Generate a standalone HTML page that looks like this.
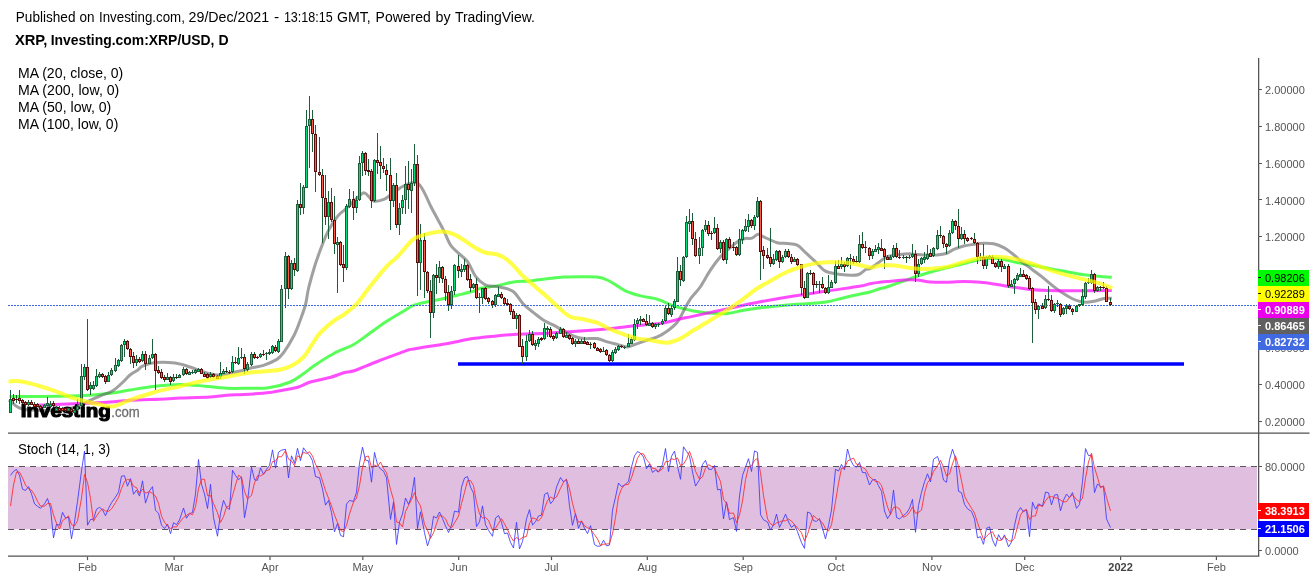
<!DOCTYPE html><html><head><meta charset="utf-8"><title>XRP/USD chart</title><style>html,body{margin:0;padding:0;background:#fff}
body{width:1316px;height:580px;overflow:hidden}
text{font-family:"Liberation Sans",Arial,sans-serif;fill:#000}
.t14{font-size:14px}.t14b{font-size:14px;font-weight:bold}
.ax{font-size:11px;fill:#555}.axb{font-size:11px;font-weight:bold;fill:#444}
.axl{font-size:11px;font-weight:bold}
.logo{font-size:18.6px;font-weight:bold;fill:#000;stroke:#000;stroke-width:1.2px;stroke-linejoin:round}
.logo2{font-size:15px;fill:#6e6e6e;stroke:#6e6e6e;stroke-width:0.3px}
</style></head><body><svg width="1316" height="580" viewBox="0 0 1316 580" style="display:block">
<rect width="100%" height="100%" fill="#fff"/>
<path d="M458 364H1184" stroke="#0000ff" stroke-width="3.4" fill="none"/>
<path d="M9.5 396.6C21.2 396.5 63.2 396.3 80.0 395.7C96.8 395.1 102.0 394.1 110.3 393.2C118.6 392.2 122.5 391.2 130.0 390.0C137.4 388.8 146.7 387.2 155.0 386.2C163.3 385.3 171.7 384.5 180.0 384.5C188.3 384.5 197.2 385.6 205.0 386.2C212.8 386.9 219.2 388.0 226.7 388.3C234.2 388.6 243.0 388.3 250.0 388.2C257.0 388.2 261.9 388.8 268.6 387.8C275.3 386.8 284.5 384.4 290.3 382.0C296.1 379.6 299.8 376.3 303.7 373.6C307.6 370.9 308.7 369.4 313.7 366.0C318.7 362.6 327.1 357.1 333.8 353.5C340.5 349.9 347.6 347.9 353.7 344.5C359.8 341.1 364.8 336.7 370.4 332.8C376.0 328.9 381.5 324.7 387.1 321.1C392.7 317.5 399.3 313.6 403.8 311.0C408.3 308.4 409.7 306.8 413.9 305.2C418.1 303.6 424.5 302.5 429.0 301.5C433.5 300.5 436.0 300.4 440.7 299.3C445.4 298.2 451.8 296.6 457.4 295.2C463.0 293.8 470.3 292.1 474.1 291.0C477.9 289.9 476.2 289.2 480.0 288.4C483.8 287.5 491.1 287.0 496.7 285.9C502.3 284.8 507.9 282.8 513.5 282.0C519.1 281.2 524.6 281.4 530.2 280.9C535.8 280.3 541.3 279.3 546.9 278.7C552.5 278.1 558.1 277.3 563.7 277.0C569.3 276.7 574.8 276.7 580.4 276.7C586.0 276.7 592.6 276.4 597.1 277.0C601.6 277.6 603.9 278.5 607.2 280.0C610.6 281.5 613.9 283.9 617.2 285.9C620.5 287.8 623.3 290.0 627.2 291.7C631.1 293.4 636.1 294.8 640.6 295.9C645.1 297.0 650.8 297.7 654.0 298.4C657.2 299.1 656.2 298.8 660.0 300.2C663.8 301.6 671.1 305.1 676.7 306.9C682.3 308.7 687.9 309.9 693.5 311.0C699.1 312.1 704.6 312.8 710.2 313.2C715.8 313.6 721.3 314.1 726.9 313.6C732.5 313.1 738.1 311.2 743.7 310.2C749.3 309.2 754.8 308.4 760.4 307.7C766.0 307.0 771.5 306.6 777.1 306.0C782.7 305.4 788.2 304.8 793.8 304.4C799.4 304.0 805.0 303.9 810.6 303.5C816.2 303.1 821.7 302.8 827.3 301.8C832.9 300.8 838.4 299.0 844.0 297.7C849.6 296.4 856.5 294.9 860.8 294.0C865.1 293.1 867.0 292.8 870.0 292.0C873.0 291.2 876.2 289.8 879.0 289.0C881.8 288.2 882.6 288.3 886.7 287.0C890.8 285.7 897.9 283.1 903.5 281.1C909.1 279.2 914.6 277.1 920.2 275.3C925.8 273.5 931.3 271.8 936.9 270.3C942.5 268.8 948.1 267.5 953.7 266.1C959.3 264.7 966.0 263.0 970.4 261.9C974.8 260.8 976.5 260.0 980.4 259.4C984.3 258.8 989.9 258.2 993.8 258.2C997.7 258.2 1000.0 258.7 1003.8 259.4C1007.6 260.1 1011.8 261.5 1016.7 262.5C1021.7 263.5 1027.9 264.4 1033.5 265.4C1039.1 266.4 1044.6 267.6 1050.2 268.7C1055.8 269.8 1061.3 270.7 1066.9 271.7C1072.5 272.7 1078.1 273.9 1083.7 274.7C1089.3 275.5 1095.7 276.0 1100.4 276.4C1105.1 276.8 1109.9 277.1 1111.8 277.3" stroke="#00ff00" stroke-opacity="0.65" stroke-width="3" fill="none" stroke-linejoin="round" stroke-linecap="butt"/>
<path d="M9.0 400.0C10.6 401.3 15.3 405.9 18.8 407.6C22.3 409.3 23.1 409.6 30.0 410.0C36.9 410.4 52.5 410.5 60.0 410.0C67.5 409.5 70.4 408.4 75.0 407.0C79.6 405.6 83.6 403.1 87.8 401.3C92.0 399.5 95.8 397.8 100.0 396.0C104.2 394.2 109.1 392.9 112.8 390.7C116.5 388.5 119.1 385.6 122.0 383.0C124.9 380.4 127.3 377.2 130.0 375.0C132.7 372.8 135.8 371.5 137.9 370.0C140.0 368.5 139.7 367.5 142.5 366.2C145.3 365.0 149.6 363.0 155.0 362.5C160.4 362.0 169.2 362.2 175.0 363.0C180.8 363.8 185.0 365.4 190.0 367.0C195.0 368.6 200.4 371.2 205.0 372.5C209.6 373.8 213.1 374.9 217.5 375.0C221.9 375.1 227.5 373.6 231.7 372.8C235.9 372.1 239.2 371.3 242.5 370.5C245.8 369.7 248.3 368.7 251.8 367.8C255.3 366.9 259.3 366.7 263.5 365.3C267.7 363.9 273.5 361.5 276.9 359.4C280.2 357.3 280.8 356.6 283.6 352.7C286.4 348.8 290.9 341.4 293.7 336.0C296.5 330.6 298.4 325.2 300.3 320.0C302.2 314.8 304.0 310.2 305.4 305.0C306.8 299.8 307.0 294.8 308.5 288.5C310.0 282.2 312.4 273.9 314.3 267.5C316.2 261.1 318.1 256.0 320.2 250.3C322.3 244.7 324.7 238.3 326.9 233.6C329.1 228.9 331.5 225.1 333.6 221.9C335.7 218.7 337.4 216.4 339.4 214.3C341.3 212.2 341.8 212.5 345.3 209.3C348.8 206.1 357.0 197.8 360.3 195.1C363.6 192.4 363.2 192.4 365.4 193.4C367.6 194.4 370.6 200.0 373.7 201.0C376.8 202.0 381.0 200.3 383.8 199.3C386.6 198.3 387.4 197.2 390.5 195.1C393.6 193.0 398.3 188.8 402.2 186.7C406.1 184.6 411.0 182.8 413.9 182.5C416.8 182.2 417.8 183.0 419.7 185.1C421.6 187.2 423.8 191.6 425.6 195.1C427.4 198.6 428.7 202.1 430.6 206.0C432.6 209.9 435.1 214.3 437.3 218.5C439.5 222.7 441.8 226.6 444.0 231.1C446.2 235.6 448.2 241.5 450.7 245.3C453.2 249.1 456.2 251.0 459.0 253.7C461.8 256.4 464.6 257.7 467.4 261.5C470.2 265.3 473.0 272.9 475.8 276.7C478.6 280.5 481.8 282.8 484.2 284.3C486.6 285.8 487.1 285.4 490.0 285.9C492.9 286.4 497.8 286.5 501.7 287.5C505.6 288.5 509.9 288.9 513.5 291.7C517.1 294.5 520.2 300.8 523.5 304.3C526.8 307.8 530.1 310.0 533.5 312.6C536.9 315.2 540.2 318.1 543.6 320.2C547.0 322.3 550.2 323.4 553.6 325.2C557.0 327.0 560.4 329.2 563.7 331.0C567.1 332.8 570.4 334.8 573.7 336.1C577.0 337.4 579.8 338.2 583.7 338.6C587.6 339.0 593.2 338.1 597.1 338.6C601.0 339.2 603.9 340.9 607.2 341.9C610.6 342.9 613.9 343.6 617.2 344.4C620.5 345.2 623.9 347.0 627.2 346.9C630.6 346.8 633.9 344.7 637.3 343.6C640.6 342.5 644.0 341.3 647.3 340.2C650.6 339.1 653.9 338.4 657.3 336.9C660.6 335.4 664.0 333.5 667.4 331.0C670.8 328.5 674.6 325.5 677.4 322.0C680.2 318.5 681.9 313.9 684.1 310.0C686.3 306.1 688.1 302.2 690.8 298.4C693.5 294.6 697.0 291.7 700.2 287.0C703.4 282.3 706.9 275.3 710.2 270.3C713.5 265.3 716.9 260.7 720.2 256.9C723.6 253.1 727.2 250.3 730.3 247.7C733.4 245.0 736.1 242.5 738.6 241.0C741.1 239.5 743.1 239.0 745.3 238.5C747.5 238.0 749.9 238.9 752.0 238.2C754.1 237.5 755.9 234.5 757.9 234.3C759.9 234.1 760.5 235.4 763.7 236.8C766.9 238.2 773.2 241.6 777.1 242.7C781.0 243.8 783.9 243.1 787.2 243.5C790.6 243.9 794.1 243.7 797.2 245.2C800.3 246.7 802.5 249.9 805.6 252.7C808.7 255.5 812.5 259.0 815.6 261.9C818.7 264.8 821.5 268.5 824.0 270.3C826.5 272.1 827.9 272.1 830.7 272.8C833.5 273.5 837.4 274.1 840.7 274.5C844.0 274.9 847.7 275.3 850.7 275.3C853.7 275.3 856.2 275.5 858.7 274.5C861.2 273.5 863.9 270.5 865.8 269.5C867.7 268.5 867.9 269.7 870.0 268.6C872.1 267.5 875.6 264.6 878.4 262.7C881.2 260.8 883.1 258.3 886.7 256.9C890.3 255.5 895.9 254.9 900.1 254.4C904.3 253.9 907.9 253.8 911.8 253.9C915.7 254.0 919.3 254.7 923.5 254.9C927.7 255.1 933.0 255.2 936.9 254.9C940.8 254.6 944.2 254.1 947.0 253.2C949.8 252.3 950.9 250.6 953.7 249.4C956.5 248.2 960.4 246.8 963.7 246.0C967.0 245.2 970.4 244.8 973.7 244.3C977.1 243.8 980.4 243.3 983.8 243.2C987.1 243.1 990.5 243.1 993.8 243.8C997.1 244.6 1000.7 246.1 1003.8 247.7C1006.9 249.3 1009.2 251.2 1012.2 253.5C1015.2 255.8 1018.4 259.1 1021.7 261.7C1025.0 264.3 1028.5 266.7 1031.8 269.2C1035.1 271.7 1038.4 274.0 1041.8 276.7C1045.2 279.4 1048.6 282.5 1051.9 285.1C1055.2 287.8 1058.6 290.4 1061.9 292.6C1065.2 294.8 1068.8 297.0 1071.9 298.5C1075.0 300.0 1077.8 300.9 1080.3 301.5C1082.8 302.1 1084.5 302.3 1087.0 302.2C1089.5 302.1 1092.6 301.6 1095.4 301.0C1098.2 300.4 1101.0 299.0 1103.7 298.5C1106.4 298.0 1110.5 298.2 1111.8 298.2" stroke="#606060" stroke-opacity="0.6" stroke-width="3" fill="none" stroke-linejoin="round" stroke-linecap="butt"/>
<path d="M37.6 405.2C44.7 404.9 67.9 404.1 80.0 403.6C92.1 403.1 101.7 402.6 110.0 402.0C118.3 401.4 120.8 400.8 130.0 400.3C139.2 399.8 156.7 399.4 165.0 399.0C173.3 398.6 172.5 398.3 180.0 398.0C187.5 397.7 201.7 397.5 210.0 397.0C218.3 396.5 224.4 395.4 230.0 395.0C235.6 394.6 236.8 394.9 243.5 394.5C250.2 394.1 264.4 393.1 270.0 392.5C275.6 391.9 272.4 392.0 276.9 391.2C281.4 390.4 291.4 389.0 297.0 387.5C302.6 386.0 304.9 383.7 310.4 382.0C315.9 380.3 324.4 379.0 330.0 377.5C335.6 376.0 339.6 374.0 343.8 372.8C348.0 371.6 349.4 372.4 355.0 370.5C360.6 368.6 369.0 364.7 377.3 361.5C385.6 358.3 399.4 353.3 405.0 351.2C410.6 349.2 406.6 350.2 410.8 349.4C415.0 348.6 425.6 346.9 430.0 346.2C434.4 345.6 432.5 346.1 437.3 345.3C442.1 344.5 453.4 342.4 459.0 341.2C464.6 340.1 467.3 339.3 470.8 338.7C474.3 338.1 472.9 338.4 480.0 337.7C487.1 337.0 502.4 335.1 513.5 334.4C524.6 333.6 535.8 333.8 546.9 333.2C558.0 332.6 569.2 331.8 580.4 331.0C591.5 330.2 602.6 329.3 613.8 328.2C624.9 327.1 639.6 325.2 647.3 324.4C655.0 323.6 654.4 324.5 660.0 323.6C665.6 322.7 675.2 320.1 680.8 318.8C686.4 317.6 685.8 317.8 693.5 316.1C701.2 314.5 715.8 311.3 726.9 308.9C738.0 306.5 749.2 303.9 760.4 301.8C771.5 299.7 782.6 297.8 793.8 296.0C804.9 294.2 816.1 292.7 827.3 291.0C838.5 289.3 853.7 287.2 860.8 286.0C867.9 284.8 865.7 284.4 870.0 283.7C874.3 283.0 881.1 282.2 886.7 281.6C892.3 281.0 898.5 280.3 903.5 280.0C908.5 279.7 912.3 279.7 916.8 280.0C921.2 280.3 925.5 281.6 930.2 282.0C935.0 282.4 939.7 282.4 945.3 282.3C950.9 282.2 957.9 281.6 963.7 281.6C969.6 281.6 974.8 281.8 980.4 282.3C986.0 282.8 991.5 283.7 997.1 284.5C1002.7 285.3 1008.3 286.5 1013.9 287.3C1019.5 288.1 1025.0 289.0 1030.6 289.5C1036.2 290.0 1040.6 290.3 1047.3 290.5C1054.0 290.7 1060.0 290.8 1070.8 290.8C1081.5 290.8 1105.0 290.6 1111.8 290.5" stroke="#ff00ff" stroke-opacity="0.7" stroke-width="3" fill="none" stroke-linejoin="round" stroke-linecap="butt"/>
<g style="filter:blur(0.6px)"><text x="20.8" y="416.8" class="logo" textLength="90" lengthAdjust="spacingAndGlyphs">Investing</text><text x="111.3" y="416.8" class="logo2" textLength="28.5" lengthAdjust="spacingAndGlyphs">.com</text></g>
<path d="M8 305.5H1257" stroke="#4169e1" stroke-width="1" stroke-dasharray="2 1" fill="none" shape-rendering="crispEdges"/>
<g shape-rendering="crispEdges">
<path d="M10 390h1v23h-1zM13 394h1v10h-1zM16 395h1v8h-1zM19 390h1v14h-1zM22 399h1v5h-1zM25 401h1v5h-1zM28 400h1v6h-1zM31 400h1v5h-1zM34 402h1v5h-1zM37 403h1v4h-1zM40 405h1v4h-1zM44 404h1v4h-1zM47 397h1v9h-1zM50 401h1v6h-1zM53 401h1v6h-1zM56 406h1v5h-1zM59 406h1v5h-1zM62 407h1v4h-1zM65 408h1v4h-1zM68 408h1v3h-1zM71 408h1v4h-1zM74 409h1v4h-1zM77 399h1v12h-1zM81 364h1v43h-1zM84 364h1v16h-1zM87 319h1v72h-1zM90 382h1v13h-1zM93 381h1v9h-1zM96 369h1v18h-1zM99 372h1v6h-1zM102 373h1v5h-1zM105 375h1v9h-1zM108 372h1v10h-1zM111 368h1v8h-1zM115 358h1v14h-1zM118 359h1v8h-1zM121 344h1v18h-1zM124 339h1v18h-1zM127 340h1v10h-1zM130 348h1v16h-1zM133 352h1v16h-1zM136 355h1v11h-1zM139 357h1v6h-1zM142 351h1v11h-1zM145 351h1v19h-1zM149 355h1v9h-1zM152 339h1v20h-1zM155 353h1v37h-1zM158 366h1v8h-1zM161 369h1v10h-1zM164 375h1v7h-1zM167 373h1v7h-1zM170 376h1v9h-1zM173 374h1v8h-1zM176 374h1v5h-1zM179 374h1v4h-1zM183 367h1v9h-1zM186 368h1v7h-1zM189 371h1v4h-1zM192 370h1v4h-1zM195 369h1v5h-1zM198 368h1v4h-1zM201 368h1v6h-1zM204 372h1v5h-1zM207 373h1v6h-1zM210 372h1v6h-1zM213 373h1v5h-1zM217 375h1v4h-1zM220 362h1v17h-1zM223 369h1v5h-1zM226 367h1v6h-1zM229 370h1v4h-1zM232 356h1v17h-1zM235 357h1v7h-1zM238 347h1v18h-1zM241 348h1v11h-1zM244 354h1v20h-1zM247 362h1v10h-1zM251 352h1v14h-1zM254 352h1v7h-1zM257 356h1v3h-1zM260 353h1v5h-1zM263 350h1v6h-1zM266 352h1v8h-1zM269 349h1v6h-1zM272 345h1v9h-1zM275 345h1v7h-1zM278 339h1v14h-1zM281 285h1v57h-1zM285 252h1v56h-1zM288 255h1v44h-1zM291 260h1v30h-1zM294 258h1v18h-1zM297 200h1v72h-1zM300 183h1v32h-1zM303 185h1v29h-1zM306 110h1v78h-1zM309 96h1v72h-1zM312 110h1v42h-1zM315 125h1v67h-1zM319 137h1v39h-1zM322 169h1v74h-1zM325 175h1v50h-1zM328 191h1v48h-1zM331 188h1v34h-1zM334 196h1v58h-1zM337 237h1v56h-1zM340 241h1v25h-1zM343 245h1v37h-1zM346 204h1v66h-1zM349 189h1v19h-1zM353 191h1v29h-1zM356 196h1v17h-1zM359 156h1v45h-1zM362 151h1v25h-1zM365 152h1v23h-1zM368 159h1v17h-1zM371 169h1v39h-1zM374 159h1v43h-1zM377 133h1v41h-1zM380 146h1v33h-1zM383 158h1v15h-1zM386 164h1v27h-1zM390 158h1v72h-1zM393 183h1v24h-1zM396 173h1v55h-1zM399 203h1v32h-1zM402 195h1v19h-1zM405 166h1v48h-1zM408 161h1v48h-1zM411 169h1v44h-1zM414 144h1v42h-1zM417 155h1v141h-1zM420 224h1v66h-1zM424 233h1v65h-1zM427 271h1v22h-1zM430 280h1v58h-1zM433 274h1v44h-1zM436 264h1v30h-1zM439 261h1v22h-1zM442 266h1v17h-1zM445 276h1v25h-1zM448 285h1v26h-1zM451 286h1v23h-1zM454 264h1v31h-1zM458 255h1v23h-1zM461 264h1v13h-1zM464 259h1v13h-1zM467 264h1v17h-1zM470 274h1v18h-1zM473 283h1v6h-1zM476 278h1v21h-1zM479 293h1v20h-1zM482 288h1v16h-1zM485 287h1v13h-1zM488 297h1v7h-1zM492 300h1v8h-1zM495 294h1v13h-1zM498 287h1v10h-1zM501 292h1v7h-1zM504 297h1v8h-1zM507 299h1v7h-1zM510 303h1v12h-1zM513 309h1v10h-1zM516 313h1v16h-1zM519 314h1v33h-1zM522 339h1v25h-1zM526 335h1v26h-1zM529 330h1v12h-1zM532 331h1v15h-1zM535 340h1v10h-1zM538 337h1v10h-1zM541 337h1v4h-1zM544 323h1v17h-1zM547 326h1v11h-1zM550 327h1v11h-1zM553 335h1v6h-1zM556 332h1v7h-1zM560 327h1v7h-1zM563 328h1v10h-1zM566 332h1v6h-1zM569 334h1v6h-1zM572 337h1v8h-1zM575 339h1v8h-1zM578 339h1v5h-1zM581 339h1v5h-1zM584 337h1v7h-1zM587 341h1v4h-1zM590 342h1v7h-1zM594 342h1v7h-1zM597 347h1v4h-1zM600 348h1v5h-1zM603 347h1v5h-1zM606 349h1v7h-1zM609 354h1v8h-1zM612 350h1v12h-1zM615 347h1v7h-1zM618 345h1v6h-1zM621 345h1v3h-1zM624 346h1v3h-1zM628 334h1v13h-1zM631 337h1v7h-1zM634 319h1v22h-1zM637 318h1v11h-1zM640 316h1v9h-1zM643 318h1v4h-1zM646 314h1v12h-1zM649 315h1v11h-1zM652 322h1v6h-1zM655 323h1v6h-1zM658 323h1v4h-1zM662 319h1v6h-1zM665 306h1v16h-1zM668 303h1v12h-1zM671 306h1v11h-1zM674 299h1v11h-1zM677 257h1v45h-1zM680 265h1v21h-1zM683 256h1v26h-1zM686 216h1v42h-1zM689 209h1v23h-1zM692 213h1v32h-1zM695 232h1v25h-1zM699 237h1v27h-1zM702 229h1v27h-1zM705 220h1v12h-1zM708 221h1v15h-1zM711 231h1v9h-1zM714 217h1v17h-1zM717 224h1v26h-1zM720 240h1v13h-1zM723 240h1v21h-1zM726 238h1v26h-1zM729 237h1v12h-1zM733 242h1v9h-1zM736 246h1v10h-1zM739 229h1v27h-1zM742 229h1v15h-1zM745 219h1v13h-1zM748 214h1v18h-1zM751 219h1v9h-1zM754 215h1v15h-1zM757 197h1v21h-1zM760 200h1v80h-1zM763 246h1v23h-1zM767 248h1v11h-1zM770 228h1v39h-1zM773 254h1v11h-1zM776 250h1v11h-1zM779 250h1v18h-1zM782 255h1v8h-1zM785 249h1v9h-1zM788 249h1v9h-1zM791 254h1v10h-1zM794 257h1v5h-1zM797 258h1v8h-1zM801 264h1v31h-1zM804 281h1v18h-1zM807 272h1v26h-1zM810 270h1v5h-1zM813 272h1v22h-1zM816 281h1v7h-1zM819 281h1v12h-1zM822 277h1v12h-1zM825 287h1v7h-1zM828 275h1v19h-1zM831 280h1v8h-1zM835 261h1v23h-1zM838 260h1v9h-1zM841 257h1v12h-1zM844 262h1v10h-1zM847 257h1v10h-1zM850 254h1v15h-1zM853 256h1v8h-1zM856 256h1v7h-1zM859 235h1v28h-1zM862 232h1v17h-1zM865 241h1v12h-1zM869 247h1v13h-1zM872 249h1v10h-1zM875 245h1v7h-1zM878 243h1v11h-1zM881 239h1v12h-1zM884 248h1v21h-1zM887 255h1v5h-1zM890 255h1v5h-1zM893 245h1v13h-1zM896 243h1v15h-1zM899 250h1v9h-1zM903 255h1v4h-1zM906 256h1v7h-1zM909 255h1v4h-1zM912 244h1v14h-1zM915 250h1v32h-1zM918 259h1v18h-1zM921 257h1v8h-1zM924 252h1v11h-1zM927 245h1v15h-1zM930 249h1v8h-1zM933 247h1v10h-1zM937 230h1v20h-1zM940 226h1v12h-1zM943 235h1v13h-1zM946 243h1v11h-1zM949 230h1v17h-1zM952 219h1v15h-1zM955 220h1v10h-1zM958 209h1v39h-1zM961 227h1v13h-1zM964 230h1v14h-1zM967 237h1v5h-1zM971 237h1v3h-1zM974 233h1v11h-1zM977 242h1v22h-1zM980 253h1v8h-1zM983 244h1v25h-1zM986 256h1v13h-1zM989 255h1v4h-1zM992 255h1v9h-1zM995 262h1v6h-1zM998 259h1v10h-1zM1001 259h1v13h-1zM1004 264h1v5h-1zM1008 264h1v24h-1zM1011 280h1v7h-1zM1014 278h1v16h-1zM1017 273h1v8h-1zM1020 268h1v9h-1zM1023 270h1v7h-1zM1026 274h1v6h-1zM1029 276h1v14h-1zM1032 287h1v56h-1zM1035 299h1v15h-1zM1038 305h1v14h-1zM1042 303h1v6h-1zM1045 295h1v14h-1zM1048 286h1v15h-1zM1051 295h1v17h-1zM1054 303h1v10h-1zM1057 300h1v7h-1zM1060 303h1v14h-1zM1063 307h1v8h-1zM1066 304h1v10h-1zM1069 304h1v6h-1zM1072 308h1v7h-1zM1076 305h1v7h-1zM1079 304h1v3h-1zM1082 289h1v17h-1zM1085 282h1v17h-1zM1088 278h1v6h-1zM1091 270h1v14h-1zM1094 273h1v20h-1zM1097 286h1v6h-1zM1100 286h1v5h-1zM1103 282h1v7h-1zM1106 286h1v16h-1zM1110 298h1v8h-1z" fill="#1d5e3a"/>
<path d="M9 399h3v14h-3zM27 402h3v3h-3zM43 405h3v3h-3zM46 403h3v3h-3zM49 404h3v3h-3zM55 408h3v3h-3zM67 408h3v3h-3zM73 410h3v3h-3zM76 406h3v4h-3zM80 376h3v30h-3zM83 367h3v10h-3zM89 385h3v4h-3zM92 385h3v4h-3zM95 376h3v10h-3zM98 374h3v3h-3zM107 375h3v7h-3zM110 370h3v5h-3zM114 365h3v6h-3zM117 360h3v6h-3zM120 345h3v16h-3zM123 341h3v4h-3zM135 359h3v4h-3zM141 354h3v7h-3zM148 358h3v6h-3zM151 354h3v4h-3zM166 377h3v3h-3zM172 377h3v4h-3zM178 375h3v3h-3zM182 369h3v6h-3zM188 372h3v3h-3zM191 372h3v1h-3zM194 370h3v3h-3zM197 369h3v3h-3zM209 374h3v3h-3zM219 373h3v4h-3zM222 371h3v3h-3zM231 362h3v10h-3zM237 358h3v6h-3zM240 357h3v1h-3zM246 364h3v6h-3zM250 354h3v11h-3zM259 354h3v3h-3zM265 353h3v1h-3zM268 352h3v2h-3zM271 346h3v7h-3zM277 341h3v11h-3zM280 289h3v53h-3zM284 256h3v33h-3zM290 263h3v26h-3zM296 204h3v67h-3zM302 187h3v21h-3zM305 126h3v62h-3zM308 119h3v7h-3zM327 202h3v15h-3zM336 242h3v3h-3zM345 206h3v62h-3zM348 199h3v8h-3zM355 200h3v8h-3zM358 163h3v37h-3zM361 153h3v10h-3zM373 160h3v41h-3zM392 185h3v16h-3zM398 208h3v17h-3zM401 200h3v8h-3zM404 184h3v16h-3zM410 183h3v8h-3zM413 164h3v19h-3zM419 240h3v23h-3zM432 275h3v38h-3zM438 267h3v11h-3zM450 291h3v14h-3zM453 265h3v26h-3zM460 269h3v3h-3zM463 265h3v5h-3zM472 284h3v4h-3zM478 297h3v1h-3zM481 288h3v10h-3zM494 295h3v10h-3zM497 294h3v3h-3zM515 315h3v4h-3zM525 341h3v16h-3zM528 334h3v7h-3zM534 343h3v3h-3zM537 339h3v5h-3zM543 328h3v11h-3zM546 328h3v2h-3zM555 333h3v5h-3zM559 329h3v5h-3zM565 335h3v3h-3zM574 341h3v3h-3zM580 341h3v3h-3zM602 351h3v1h-3zM611 352h3v9h-3zM614 349h3v4h-3zM617 346h3v4h-3zM623 347h3v1h-3zM627 343h3v4h-3zM630 339h3v5h-3zM633 324h3v16h-3zM636 320h3v4h-3zM639 319h3v2h-3zM648 323h3v3h-3zM654 324h3v3h-3zM657 324h3v1h-3zM661 321h3v3h-3zM664 308h3v13h-3zM670 308h3v7h-3zM673 301h3v7h-3zM676 271h3v31h-3zM682 257h3v24h-3zM685 222h3v35h-3zM688 221h3v3h-3zM698 248h3v8h-3zM701 230h3v18h-3zM704 225h3v5h-3zM713 228h3v5h-3zM719 242h3v7h-3zM725 239h3v21h-3zM738 239h3v16h-3zM741 230h3v10h-3zM744 226h3v5h-3zM747 220h3v7h-3zM753 217h3v9h-3zM756 201h3v16h-3zM772 259h3v5h-3zM775 251h3v9h-3zM781 257h3v5h-3zM784 251h3v6h-3zM793 259h3v3h-3zM806 273h3v25h-3zM818 284h3v1h-3zM827 287h3v6h-3zM830 282h3v6h-3zM834 266h3v17h-3zM840 264h3v3h-3zM846 258h3v8h-3zM858 244h3v18h-3zM871 251h3v5h-3zM874 249h3v3h-3zM877 247h3v3h-3zM889 257h3v3h-3zM892 248h3v9h-3zM902 257h3v1h-3zM908 257h3v1h-3zM911 254h3v3h-3zM917 264h3v10h-3zM920 258h3v6h-3zM923 257h3v3h-3zM926 254h3v5h-3zM932 248h3v8h-3zM936 235h3v14h-3zM948 233h3v13h-3zM951 221h3v12h-3zM960 234h3v5h-3zM979 257h3v1h-3zM985 257h3v9h-3zM988 256h3v3h-3zM997 261h3v6h-3zM1003 266h3v3h-3zM1010 284h3v3h-3zM1013 279h3v5h-3zM1016 275h3v5h-3zM1019 274h3v3h-3zM1037 306h3v4h-3zM1044 299h3v9h-3zM1053 304h3v7h-3zM1056 303h3v1h-3zM1062 308h3v6h-3zM1065 306h3v3h-3zM1075 306h3v6h-3zM1078 304h3v2h-3zM1081 296h3v9h-3zM1084 283h3v14h-3zM1087 282h3v1h-3zM1090 274h3v9h-3zM1096 287h3v4h-3z" fill="#1d5e3a"/>
<path d="M12 398h3v3h-3zM15 399h3v1h-3zM18 398h3v3h-3zM21 400h3v3h-3zM24 402h3v3h-3zM30 402h3v3h-3zM33 404h3v3h-3zM36 404h3v3h-3zM39 406h3v3h-3zM52 403h3v3h-3zM58 408h3v3h-3zM61 408h3v3h-3zM64 408h3v3h-3zM70 409h3v3h-3zM86 367h3v23h-3zM101 374h3v3h-3zM104 376h3v6h-3zM126 341h3v8h-3zM129 349h3v8h-3zM132 356h3v7h-3zM138 359h3v3h-3zM144 354h3v10h-3zM154 354h3v17h-3zM157 370h3v3h-3zM160 372h3v6h-3zM163 377h3v3h-3zM169 377h3v5h-3zM175 377h3v1h-3zM185 369h3v5h-3zM200 369h3v5h-3zM203 374h3v3h-3zM206 374h3v4h-3zM212 374h3v3h-3zM216 376h3v3h-3zM225 371h3v1h-3zM228 372h3v1h-3zM234 362h3v1h-3zM243 357h3v12h-3zM253 354h3v4h-3zM256 357h3v1h-3zM262 354h3v1h-3zM274 347h3v4h-3zM287 256h3v33h-3zM293 263h3v7h-3zM299 204h3v4h-3zM311 119h3v15h-3zM314 134h3v38h-3zM318 172h3v3h-3zM321 175h3v23h-3zM324 198h3v19h-3zM330 202h3v18h-3zM333 220h3v24h-3zM339 242h3v23h-3zM342 264h3v4h-3zM352 199h3v9h-3zM364 153h3v18h-3zM367 170h3v2h-3zM370 171h3v30h-3zM376 160h3v3h-3zM379 162h3v4h-3zM382 166h3v3h-3zM385 170h3v5h-3zM389 175h3v26h-3zM395 185h3v40h-3zM407 184h3v6h-3zM416 164h3v99h-3zM423 240h3v32h-3zM426 272h3v19h-3zM429 291h3v22h-3zM435 275h3v3h-3zM441 267h3v12h-3zM444 279h3v14h-3zM447 292h3v13h-3zM457 266h3v5h-3zM466 265h3v15h-3zM469 279h3v9h-3zM475 284h3v14h-3zM484 288h3v11h-3zM487 298h3v4h-3zM491 301h3v4h-3zM500 294h3v4h-3zM503 298h3v6h-3zM506 303h3v2h-3zM509 304h3v8h-3zM512 311h3v8h-3zM518 315h3v32h-3zM521 346h3v11h-3zM531 334h3v11h-3zM540 338h3v2h-3zM549 329h3v8h-3zM552 336h3v3h-3zM562 329h3v8h-3zM568 335h3v4h-3zM571 338h3v6h-3zM577 341h3v3h-3zM583 341h3v3h-3zM586 342h3v3h-3zM589 344h3v1h-3zM593 343h3v5h-3zM596 348h3v3h-3zM599 349h3v3h-3zM605 350h3v5h-3zM608 355h3v6h-3zM620 346h3v1h-3zM642 319h3v3h-3zM645 321h3v4h-3zM651 323h3v4h-3zM667 308h3v6h-3zM679 271h3v9h-3zM691 221h3v18h-3zM694 239h3v17h-3zM707 225h3v9h-3zM710 233h3v1h-3zM716 228h3v21h-3zM722 242h3v18h-3zM728 239h3v9h-3zM732 247h3v1h-3zM735 247h3v8h-3zM750 220h3v6h-3zM759 201h3v51h-3zM762 250h3v6h-3zM766 255h3v3h-3zM769 257h3v7h-3zM778 251h3v11h-3zM787 251h3v6h-3zM790 257h3v5h-3zM796 259h3v6h-3zM800 264h3v24h-3zM803 288h3v10h-3zM809 273h3v1h-3zM812 273h3v12h-3zM815 284h3v1h-3zM821 284h3v4h-3zM824 288h3v5h-3zM837 266h3v3h-3zM843 264h3v3h-3zM849 258h3v1h-3zM852 259h3v3h-3zM855 261h3v1h-3zM861 244h3v4h-3zM864 247h3v1h-3zM868 248h3v8h-3zM880 248h3v3h-3zM883 249h3v8h-3zM886 257h3v3h-3zM895 248h3v9h-3zM898 257h3v1h-3zM905 257h3v1h-3zM914 254h3v20h-3zM929 253h3v4h-3zM939 235h3v1h-3zM942 236h3v8h-3zM945 244h3v3h-3zM954 221h3v5h-3zM957 226h3v13h-3zM963 234h3v5h-3zM966 238h3v3h-3zM970 238h3v1h-3zM973 239h3v4h-3zM976 243h3v14h-3zM982 257h3v9h-3zM991 257h3v7h-3zM994 263h3v4h-3zM1000 261h3v6h-3zM1007 266h3v20h-3zM1022 274h3v3h-3zM1025 275h3v4h-3zM1028 278h3v11h-3zM1031 288h3v15h-3zM1034 302h3v8h-3zM1041 306h3v3h-3zM1047 299h3v1h-3zM1050 300h3v11h-3zM1059 304h3v11h-3zM1068 306h3v3h-3zM1071 309h3v3h-3zM1093 274h3v17h-3zM1099 287h3v1h-3zM1102 287h3v1h-3zM1105 288h3v14h-3zM1109 302h3v3h-3z" fill="#5c0a0a"/>
<path d="M10 400h1v12h-1zM28 403h1v1h-1zM44 406h1v1h-1zM47 404h1v1h-1zM50 405h1v1h-1zM56 409h1v1h-1zM68 409h1v1h-1zM74 411h1v1h-1zM77 407h1v2h-1zM81 377h1v28h-1zM84 368h1v8h-1zM90 386h1v2h-1zM93 386h1v2h-1zM96 377h1v8h-1zM99 375h1v1h-1zM108 376h1v5h-1zM111 371h1v3h-1zM115 366h1v4h-1zM118 361h1v4h-1zM121 346h1v14h-1zM124 342h1v2h-1zM136 360h1v2h-1zM142 355h1v5h-1zM149 359h1v4h-1zM152 355h1v2h-1zM167 378h1v1h-1zM173 378h1v2h-1zM179 376h1v1h-1zM183 370h1v4h-1zM189 373h1v1h-1zM195 371h1v1h-1zM198 370h1v1h-1zM210 375h1v1h-1zM220 374h1v2h-1zM223 372h1v1h-1zM232 363h1v8h-1zM238 359h1v4h-1zM247 365h1v4h-1zM251 355h1v9h-1zM260 355h1v1h-1zM272 347h1v5h-1zM278 342h1v9h-1zM281 290h1v51h-1zM285 257h1v31h-1zM291 264h1v24h-1zM297 205h1v65h-1zM303 188h1v19h-1zM306 127h1v60h-1zM309 120h1v5h-1zM328 203h1v13h-1zM337 243h1v1h-1zM346 207h1v60h-1zM349 200h1v6h-1zM356 201h1v6h-1zM359 164h1v35h-1zM362 154h1v8h-1zM374 161h1v39h-1zM393 186h1v14h-1zM399 209h1v15h-1zM402 201h1v6h-1zM405 185h1v14h-1zM411 184h1v6h-1zM414 165h1v17h-1zM420 241h1v21h-1zM433 276h1v36h-1zM439 268h1v9h-1zM451 292h1v12h-1zM454 266h1v24h-1zM461 270h1v1h-1zM464 266h1v3h-1zM473 285h1v2h-1zM482 289h1v8h-1zM495 296h1v8h-1zM498 295h1v1h-1zM516 316h1v2h-1zM526 342h1v14h-1zM529 335h1v5h-1zM535 344h1v1h-1zM538 340h1v3h-1zM544 329h1v9h-1zM556 334h1v3h-1zM560 330h1v3h-1zM566 336h1v1h-1zM575 342h1v1h-1zM581 342h1v1h-1zM612 353h1v7h-1zM615 350h1v2h-1zM618 347h1v2h-1zM628 344h1v2h-1zM631 340h1v3h-1zM634 325h1v14h-1zM637 321h1v2h-1zM649 324h1v1h-1zM655 325h1v1h-1zM662 322h1v1h-1zM665 309h1v11h-1zM671 309h1v5h-1zM674 302h1v5h-1zM677 272h1v29h-1zM683 258h1v22h-1zM686 223h1v33h-1zM689 222h1v1h-1zM699 249h1v6h-1zM702 231h1v16h-1zM705 226h1v3h-1zM714 229h1v3h-1zM720 243h1v5h-1zM726 240h1v19h-1zM739 240h1v14h-1zM742 231h1v8h-1zM745 227h1v3h-1zM748 221h1v5h-1zM754 218h1v7h-1zM757 202h1v14h-1zM773 260h1v3h-1zM776 252h1v7h-1zM782 258h1v3h-1zM785 252h1v4h-1zM794 260h1v1h-1zM807 274h1v23h-1zM828 288h1v4h-1zM831 283h1v4h-1zM835 267h1v15h-1zM841 265h1v1h-1zM847 259h1v6h-1zM859 245h1v16h-1zM872 252h1v3h-1zM875 250h1v1h-1zM878 248h1v1h-1zM890 258h1v1h-1zM893 249h1v7h-1zM912 255h1v1h-1zM918 265h1v8h-1zM921 259h1v4h-1zM924 258h1v1h-1zM927 255h1v3h-1zM933 249h1v6h-1zM937 236h1v12h-1zM949 234h1v11h-1zM952 222h1v10h-1zM961 235h1v3h-1zM986 258h1v7h-1zM989 257h1v1h-1zM998 262h1v4h-1zM1004 267h1v1h-1zM1011 285h1v1h-1zM1014 280h1v3h-1zM1017 276h1v3h-1zM1020 275h1v1h-1zM1038 307h1v2h-1zM1045 300h1v7h-1zM1054 305h1v5h-1zM1063 309h1v4h-1zM1066 307h1v1h-1zM1076 307h1v4h-1zM1082 297h1v7h-1zM1085 284h1v12h-1zM1091 275h1v7h-1zM1097 288h1v2h-1z" fill="#00dc78"/>
<path d="M13 399h1v1h-1zM19 399h1v1h-1zM22 401h1v1h-1zM25 403h1v1h-1zM31 403h1v1h-1zM34 405h1v1h-1zM37 405h1v1h-1zM40 407h1v1h-1zM53 404h1v1h-1zM59 409h1v1h-1zM62 409h1v1h-1zM65 409h1v1h-1zM71 410h1v1h-1zM87 368h1v21h-1zM102 375h1v1h-1zM105 377h1v4h-1zM127 342h1v6h-1zM130 350h1v6h-1zM133 357h1v5h-1zM139 360h1v1h-1zM145 355h1v8h-1zM155 355h1v15h-1zM158 371h1v1h-1zM161 373h1v4h-1zM164 378h1v1h-1zM170 378h1v3h-1zM186 370h1v3h-1zM201 370h1v3h-1zM204 375h1v1h-1zM207 375h1v2h-1zM213 375h1v1h-1zM217 377h1v1h-1zM244 358h1v10h-1zM254 355h1v2h-1zM275 348h1v2h-1zM288 257h1v31h-1zM294 264h1v5h-1zM300 205h1v2h-1zM312 120h1v13h-1zM315 135h1v36h-1zM319 173h1v1h-1zM322 176h1v21h-1zM325 199h1v17h-1zM331 203h1v16h-1zM334 221h1v22h-1zM340 243h1v21h-1zM343 265h1v2h-1zM353 200h1v7h-1zM365 154h1v16h-1zM371 172h1v28h-1zM377 161h1v1h-1zM380 163h1v2h-1zM383 167h1v1h-1zM386 171h1v3h-1zM390 176h1v24h-1zM396 186h1v38h-1zM408 185h1v4h-1zM417 165h1v97h-1zM424 241h1v30h-1zM427 273h1v17h-1zM430 292h1v20h-1zM436 276h1v1h-1zM442 268h1v10h-1zM445 280h1v12h-1zM448 293h1v11h-1zM458 267h1v3h-1zM467 266h1v13h-1zM470 280h1v7h-1zM476 285h1v12h-1zM485 289h1v9h-1zM488 299h1v2h-1zM492 302h1v2h-1zM501 295h1v2h-1zM504 299h1v4h-1zM510 305h1v6h-1zM513 312h1v6h-1zM519 316h1v30h-1zM522 347h1v9h-1zM532 335h1v9h-1zM550 330h1v6h-1zM553 337h1v1h-1zM563 330h1v6h-1zM569 336h1v2h-1zM572 339h1v4h-1zM578 342h1v1h-1zM584 342h1v1h-1zM587 343h1v1h-1zM594 344h1v3h-1zM597 349h1v1h-1zM600 350h1v1h-1zM606 351h1v3h-1zM609 356h1v4h-1zM643 320h1v1h-1zM646 322h1v2h-1zM652 324h1v2h-1zM668 309h1v4h-1zM680 272h1v7h-1zM692 222h1v16h-1zM695 240h1v15h-1zM708 226h1v7h-1zM717 229h1v19h-1zM723 243h1v16h-1zM729 240h1v7h-1zM736 248h1v6h-1zM751 221h1v4h-1zM760 202h1v49h-1zM763 251h1v4h-1zM767 256h1v1h-1zM770 258h1v5h-1zM779 252h1v9h-1zM788 252h1v4h-1zM791 258h1v3h-1zM797 260h1v4h-1zM801 265h1v22h-1zM804 289h1v8h-1zM813 274h1v10h-1zM822 285h1v2h-1zM825 289h1v3h-1zM838 267h1v1h-1zM844 265h1v1h-1zM853 260h1v1h-1zM862 245h1v2h-1zM869 249h1v6h-1zM881 249h1v1h-1zM884 250h1v6h-1zM887 258h1v1h-1zM896 249h1v7h-1zM915 255h1v18h-1zM930 254h1v2h-1zM943 237h1v6h-1zM946 245h1v1h-1zM955 222h1v3h-1zM958 227h1v11h-1zM964 235h1v3h-1zM967 239h1v1h-1zM974 240h1v2h-1zM977 244h1v12h-1zM983 258h1v7h-1zM992 258h1v5h-1zM995 264h1v2h-1zM1001 262h1v4h-1zM1008 267h1v18h-1zM1023 275h1v1h-1zM1026 276h1v2h-1zM1029 279h1v9h-1zM1032 289h1v13h-1zM1035 303h1v6h-1zM1042 307h1v1h-1zM1051 301h1v9h-1zM1060 305h1v9h-1zM1069 307h1v1h-1zM1072 310h1v1h-1zM1094 275h1v15h-1zM1106 289h1v12h-1zM1110 303h1v1h-1z" fill="#ff5a46"/>
</g>
<path d="M8.5 381.5C10.8 381.5 15.1 380.2 22.0 381.5C28.9 382.8 42.2 386.8 50.2 389.4C58.2 392.0 63.9 394.9 70.2 397.0C76.5 399.1 82.8 400.8 87.8 402.0C92.8 403.2 95.8 403.8 100.0 404.5C104.2 405.2 107.8 407.1 112.8 406.4C117.8 405.6 123.0 402.4 130.0 400.0C137.0 397.6 146.7 394.3 155.0 392.0C163.3 389.7 171.7 388.2 180.0 386.2C188.3 384.3 196.7 382.2 205.0 380.5C213.3 378.8 223.6 377.4 230.0 376.2C236.4 375.1 239.3 374.3 243.5 373.6C247.7 372.9 248.9 372.6 255.0 372.0C261.1 371.4 273.8 370.8 280.0 369.7C286.2 368.6 288.6 367.4 292.5 365.3C296.4 363.2 300.2 360.8 303.7 356.9C307.2 353.0 311.0 345.8 313.7 341.8C316.4 337.8 316.6 336.5 320.0 333.0C323.4 329.5 329.6 324.1 333.8 320.9C338.0 317.7 341.4 316.5 345.3 313.6C349.2 310.7 352.8 308.1 357.0 303.5C361.2 298.9 365.4 292.3 370.4 286.0C375.4 279.7 382.6 270.7 387.1 265.9C391.6 261.1 393.6 260.7 397.2 257.0C400.8 253.3 405.8 246.8 408.9 243.6C412.0 240.4 412.3 239.5 415.6 237.8C418.9 236.1 424.4 234.6 428.9 233.6C433.3 232.6 438.1 231.5 442.3 231.6C446.5 231.7 450.4 232.9 454.0 234.4C457.6 235.9 460.8 238.2 464.1 240.3C467.5 242.4 470.6 245.0 474.1 247.0C477.6 249.0 481.1 251.2 485.0 252.5C488.9 253.8 493.8 253.2 497.5 254.5C501.2 255.8 504.2 257.4 507.5 260.0C510.8 262.6 515.1 267.5 517.5 270.0C519.9 272.5 518.8 272.2 521.8 275.0C524.8 277.8 531.0 283.1 535.2 286.7C539.4 290.3 543.0 293.2 546.9 296.7C550.8 300.2 554.7 304.2 558.6 307.6C562.5 311.0 566.1 314.9 570.3 316.8C574.5 318.8 579.2 318.3 583.7 319.3C588.2 320.3 592.6 321.0 597.1 322.7C601.6 324.4 606.0 327.4 610.5 329.4C615.0 331.3 619.4 332.9 623.9 334.4C628.4 335.9 632.8 337.6 637.3 338.6C641.8 339.6 646.2 339.5 650.7 340.2C655.2 340.9 660.8 342.2 664.0 342.6C667.2 343.0 667.3 343.0 670.0 342.3C672.7 341.6 676.1 340.7 680.0 338.7C683.9 336.7 688.5 333.4 693.5 330.3C698.5 327.2 704.6 323.6 710.2 320.2C715.8 316.8 721.3 313.8 726.9 310.2C732.5 306.6 738.7 302.1 743.7 298.5C748.7 294.9 752.0 291.8 757.0 288.5C762.0 285.2 768.8 281.8 773.8 279.0C778.8 276.2 782.8 273.8 787.2 271.8C791.7 269.8 796.0 268.4 800.5 267.0C805.0 265.6 809.4 264.4 813.9 263.6C818.4 262.8 822.8 262.5 827.3 262.3C831.8 262.1 836.5 262.1 840.7 262.3C844.9 262.5 848.5 263.0 852.4 263.6C856.3 264.2 860.8 265.5 864.1 266.1C867.5 266.7 869.9 267.5 872.5 267.4C875.1 267.3 876.2 265.9 880.0 265.6C883.8 265.3 890.4 265.2 895.1 265.6C899.9 266.0 904.3 267.2 908.5 267.8C912.7 268.4 915.5 268.8 920.2 268.9C924.9 269.0 931.9 268.8 936.9 268.3C941.9 267.8 945.8 267.2 950.3 266.1C954.8 265.0 959.2 263.1 963.7 261.9C968.2 260.6 972.6 259.4 977.1 258.6C981.6 257.8 986.0 257.1 990.5 256.9C995.0 256.7 999.3 256.8 1003.8 257.2C1008.2 257.6 1012.2 258.2 1017.2 259.4C1022.2 260.6 1028.0 262.4 1033.5 264.2C1039.0 266.0 1044.6 268.3 1050.2 270.1C1055.8 271.9 1061.3 273.6 1066.9 275.1C1072.5 276.6 1078.7 278.1 1083.7 279.3C1088.7 280.6 1093.1 281.5 1097.0 282.6C1100.9 283.7 1104.6 285.0 1107.1 286.0C1109.6 287.0 1111.3 288.1 1112.1 288.5" stroke="#ffff00" stroke-opacity="0.72" stroke-width="4" fill="none" stroke-linejoin="round" stroke-linecap="butt"/>
<text x="15.8" y="22" class="t14" textLength="59.7" lengthAdjust="spacingAndGlyphs">Published</text>
<text x="79.6" y="22" class="t14" textLength="15.0" lengthAdjust="spacingAndGlyphs">on</text>
<text x="99.0" y="22" class="t14" textLength="85.9" lengthAdjust="spacingAndGlyphs">Investing.com,</text>
<text x="188.6" y="22" class="t14" textLength="80.6" lengthAdjust="spacingAndGlyphs">29/Dec/2021</text>
<text x="274.1" y="22" class="t14" textLength="5.2" lengthAdjust="spacingAndGlyphs">-</text>
<text x="283.9" y="22" class="t14" textLength="48.8" lengthAdjust="spacingAndGlyphs">13:18:15</text>
<text x="336.9" y="22" class="t14" textLength="33.8" lengthAdjust="spacingAndGlyphs">GMT,</text>
<text x="375.6" y="22" class="t14" textLength="55.1" lengthAdjust="spacingAndGlyphs">Powered</text>
<text x="435.6" y="22" class="t14" textLength="15.1" lengthAdjust="spacingAndGlyphs">by</text>
<text x="454.9" y="22" class="t14" textLength="80.0" lengthAdjust="spacingAndGlyphs">TradingView.</text>
<text x="14.9" y="45" class="t14b" textLength="32.5" lengthAdjust="spacingAndGlyphs">XRP,</text>
<text x="50.7" y="45" class="t14b" textLength="163.8" lengthAdjust="spacingAndGlyphs">Investing.com:XRP/USD,</text>
<text x="218.4" y="45" class="t14b">D</text>
<text x="18" y="78.4" class="t14" textLength="105.3" lengthAdjust="spacingAndGlyphs">MA (20, close, 0)</text>
<text x="18" y="95.4" class="t14" textLength="101.3" lengthAdjust="spacingAndGlyphs">MA (200, low, 0)</text>
<text x="18" y="112.4" class="t14" textLength="93.3" lengthAdjust="spacingAndGlyphs">MA (50, low, 0)</text>
<text x="18" y="129.4" class="t14" textLength="100.3" lengthAdjust="spacingAndGlyphs">MA (100, low, 0)</text>
<text x="18" y="454" class="t14" textLength="92.3" lengthAdjust="spacingAndGlyphs">Stoch (14, 1, 3)</text>
<rect x="8" y="466.6" width="1249" height="62.7" fill="#e0bee0"/>
<path d="M8 466.5H1257M8 529.5H1257" stroke="#5a555a" stroke-width="1" stroke-dasharray="6 5" fill="none" shape-rendering="crispEdges"/>
<path d="M8 433.2H1309.5M8 556H1259.4M1258.65 58V556.6" stroke="#525252" stroke-width="1.25" fill="none"/>
<path d="M1259 89.5h3.4" stroke="#555" shape-rendering="crispEdges"/>
<text x="1265" y="93.9" class="ax">2.00000</text>
<path d="M1259 126.5h3.4" stroke="#555" shape-rendering="crispEdges"/>
<text x="1265" y="130.8" class="ax">1.80000</text>
<path d="M1259 163.5h3.4" stroke="#555" shape-rendering="crispEdges"/>
<text x="1265" y="167.6" class="ax">1.60000</text>
<path d="M1259 199.5h3.4" stroke="#555" shape-rendering="crispEdges"/>
<text x="1265" y="204.5" class="ax">1.40000</text>
<path d="M1259 236.5h3.4" stroke="#555" shape-rendering="crispEdges"/>
<text x="1265" y="241.3" class="ax">1.20000</text>
<path d="M1259 310.5h3.4" stroke="#555" shape-rendering="crispEdges"/>
<text x="1265" y="315.0" class="ax">0.80000</text>
<path d="M1259 347.5h3.4" stroke="#555" shape-rendering="crispEdges"/>
<text x="1265" y="351.9" class="ax">0.60000</text>
<path d="M1259 384.5h3.4" stroke="#555" shape-rendering="crispEdges"/>
<text x="1265" y="388.7" class="ax">0.40000</text>
<path d="M1259 421.5h3.4" stroke="#555" shape-rendering="crispEdges"/>
<text x="1265" y="425.6" class="ax">0.20000</text>
<path d="M1259 466.5h3.4" stroke="#555" shape-rendering="crispEdges"/>
<text x="1265" y="471.1" class="ax">80.0000</text>
<path d="M1259 550.5h3.4" stroke="#555" shape-rendering="crispEdges"/>
<text x="1265" y="554.7" class="ax">0.0000</text>
<path d="M87.5 556.5v3.6" stroke="#555" stroke-width="1.2"/>
<text x="87.5" y="571" text-anchor="middle" class="ax">Feb</text>
<path d="M174.1 556.5v3.6" stroke="#555" stroke-width="1.2"/>
<text x="174.1" y="571" text-anchor="middle" class="ax">Mar</text>
<path d="M270.0 556.5v3.6" stroke="#555" stroke-width="1.2"/>
<text x="270.0" y="571" text-anchor="middle" class="ax">Apr</text>
<path d="M362.8 556.5v3.6" stroke="#555" stroke-width="1.2"/>
<text x="362.8" y="571" text-anchor="middle" class="ax">May</text>
<path d="M458.7 556.5v3.6" stroke="#555" stroke-width="1.2"/>
<text x="458.7" y="571" text-anchor="middle" class="ax">Jun</text>
<path d="M551.5 556.5v3.6" stroke="#555" stroke-width="1.2"/>
<text x="551.5" y="571" text-anchor="middle" class="ax">Jul</text>
<path d="M647.3 556.5v3.6" stroke="#555" stroke-width="1.2"/>
<text x="647.3" y="571" text-anchor="middle" class="ax">Aug</text>
<path d="M743.2 556.5v3.6" stroke="#555" stroke-width="1.2"/>
<text x="743.2" y="571" text-anchor="middle" class="ax">Sep</text>
<path d="M836.0 556.5v3.6" stroke="#555" stroke-width="1.2"/>
<text x="836.0" y="571" text-anchor="middle" class="ax">Oct</text>
<path d="M931.9 556.5v3.6" stroke="#555" stroke-width="1.2"/>
<text x="931.9" y="571" text-anchor="middle" class="ax">Nov</text>
<path d="M1024.7 556.5v3.6" stroke="#555" stroke-width="1.2"/>
<text x="1024.7" y="571" text-anchor="middle" class="ax">Dec</text>
<path d="M1120.6 556.5v3.6" stroke="#555" stroke-width="1.2"/>
<text x="1120.6" y="571" text-anchor="middle" class="axb">2022</text>
<path d="M1216.4 556.5v3.6" stroke="#555" stroke-width="1.2"/>
<text x="1216.4" y="571" text-anchor="middle" class="ax">Feb</text>
<path d="M10.5 475.4L13.5 471.4L16.5 469.4L19.5 475.4L22.5 489.2L25.5 490.5L28.5 486.6L31.5 493.9L34.5 503.8L37.5 506.3L40.5 508.3L44.5 503.8L47.5 498.5L50.5 508.3L53.5 537.9L56.5 524.1L59.5 525.4L62.5 512.3L65.5 518.1L68.5 517.2L71.5 538.8L74.5 522.1L77.5 501.4L81.5 470.9L84.5 451.1L87.5 525.2L90.5 519.5L93.5 519.2L96.5 509.2L99.5 507.4L102.5 509.8L105.5 515.8L108.5 508.3L111.5 502.7L115.5 497.1L118.5 492.2L121.5 476.1L124.5 475.8L127.5 486.2L130.5 478.6L133.5 494.3L136.5 490.0L139.5 496.1L142.5 480.8L145.5 503.1L149.5 490.8L152.5 486.7L155.5 510.4L158.5 513.1L161.5 525.1L164.5 528.5L167.5 524.1L170.5 533.7L173.5 522.7L176.5 524.7L179.5 519.9L183.5 508.0L186.5 518.2L189.5 513.8L192.5 512.4L195.5 493.9L198.5 459.5L201.5 484.3L204.5 494.0L207.5 508.5L210.5 484.3L213.5 517.6L217.5 536.2L220.5 513.4L223.5 500.4L226.5 507.4L229.5 509.4L232.5 470.3L235.5 475.5L238.5 479.7L241.5 477.0L244.5 517.7L247.5 501.4L251.5 467.3L254.5 479.7L257.5 480.3L260.5 467.8L263.5 474.3L266.5 469.4L269.5 465.4L272.5 449.9L275.5 468.1L278.5 452.2L281.5 450.2L285.5 449.3L288.5 478.0L291.5 455.8L294.5 463.4L297.5 448.3L300.5 460.6L303.5 447.8L306.5 452.2L309.5 455.1L312.5 460.8L315.5 476.7L319.5 477.6L322.5 489.1L325.5 505.1L328.5 500.4L331.5 512.4L334.5 531.8L337.5 523.4L340.5 535.3L343.5 536.8L346.5 504.1L349.5 500.5L353.5 501.4L356.5 492.2L359.5 463.1L362.5 447.2L365.5 460.1L368.5 460.8L371.5 482.2L374.5 452.4L377.5 464.7L380.5 469.0L383.5 471.1L386.5 477.9L390.5 519.4L393.5 502.0L396.5 544.5L399.5 522.1L402.5 514.0L405.5 498.0L408.5 504.4L411.5 496.3L414.5 477.4L417.5 528.6L420.5 511.8L424.5 532.7L427.5 545.9L430.5 536.6L433.5 516.3L436.5 518.1L439.5 512.0L442.5 518.5L445.5 525.8L448.5 532.5L451.5 525.1L454.5 511.1L458.5 512.1L461.5 487.2L464.5 478.0L467.5 476.5L470.5 487.1L473.5 493.2L476.5 526.6L479.5 521.8L482.5 505.9L485.5 524.8L488.5 530.3L492.5 536.3L495.5 518.0L498.5 515.6L501.5 522.2L504.5 533.7L507.5 533.0L510.5 542.3L513.5 548.0L516.5 522.2L519.5 548.9L522.5 541.5L526.5 518.8L529.5 509.7L532.5 525.1L535.5 521.7L538.5 516.0L541.5 515.1L544.5 494.4L547.5 492.6L550.5 503.7L553.5 500.3L556.5 487.1L560.5 477.5L563.5 481.9L566.5 479.2L569.5 505.7L572.5 525.3L575.5 513.5L578.5 528.3L581.5 521.1L584.5 528.3L587.5 533.6L590.5 525.7L594.5 544.6L597.5 546.3L600.5 546.0L603.5 540.2L606.5 545.8L609.5 545.1L612.5 510.2L615.5 497.1L618.5 483.0L621.5 486.6L624.5 485.1L628.5 481.3L631.5 467.1L634.5 455.8L637.5 451.5L640.5 453.2L643.5 457.0L646.5 468.7L649.5 463.9L652.5 472.4L655.5 470.1L658.5 472.1L662.5 464.5L665.5 448.5L668.5 471.5L671.5 456.3L674.5 451.1L677.5 466.3L680.5 479.3L683.5 446.8L686.5 451.3L689.5 455.8L692.5 471.9L695.5 486.1L699.5 479.7L702.5 464.5L705.5 460.4L708.5 469.2L711.5 469.5L714.5 465.5L717.5 489.8L720.5 489.3L723.5 518.9L726.5 501.9L729.5 519.6L733.5 517.6L736.5 531.4L739.5 496.0L742.5 475.5L745.5 467.2L748.5 458.7L751.5 471.5L754.5 450.9L757.5 452.4L760.5 514.7L763.5 519.8L767.5 521.9L770.5 530.0L773.5 524.7L776.5 514.1L779.5 527.4L782.5 521.1L785.5 514.1L788.5 521.9L791.5 527.4L794.5 524.7L797.5 531.7L801.5 542.7L804.5 548.4L807.5 512.0L810.5 513.2L813.5 520.7L816.5 521.4L819.5 518.6L822.5 528.4L825.5 538.9L828.5 525.6L831.5 510.0L835.5 469.2L838.5 471.1L841.5 464.4L844.5 469.8L847.5 449.0L850.5 459.9L853.5 465.5L856.5 467.2L859.5 462.4L862.5 472.6L865.5 472.6L869.5 485.0L872.5 479.8L875.5 479.5L878.5 485.8L881.5 491.1L884.5 511.0L887.5 518.6L890.5 513.9L893.5 490.1L896.5 517.5L899.5 518.9L903.5 515.5L906.5 513.1L909.5 508.3L912.5 499.3L915.5 532.3L918.5 505.5L921.5 492.3L924.5 481.9L927.5 473.8L930.5 481.9L933.5 459.2L937.5 456.5L940.5 465.4L943.5 480.1L946.5 482.3L949.5 459.7L952.5 449.2L955.5 458.4L958.5 491.3L961.5 492.7L964.5 504.4L967.5 508.7L971.5 511.5L974.5 518.9L977.5 537.9L980.5 536.6L983.5 544.3L986.5 528.3L989.5 526.9L992.5 539.9L995.5 546.3L998.5 534.7L1001.5 540.0L1004.5 534.9L1008.5 546.9L1011.5 542.1L1014.5 525.6L1017.5 512.3L1020.5 507.6L1023.5 511.8L1026.5 509.6L1029.5 536.6L1032.5 502.2L1035.5 509.2L1038.5 503.8L1042.5 506.1L1045.5 492.1L1048.5 492.8L1051.5 504.9L1054.5 495.0L1057.5 494.5L1060.5 510.9L1063.5 500.2L1066.5 494.0L1069.5 497.7L1072.5 492.6L1076.5 508.3L1079.5 504.5L1082.5 481.6L1085.5 448.6L1088.5 455.7L1091.5 455.0L1094.5 492.6L1097.5 483.9L1100.5 486.9L1103.5 486.6L1106.5 518.9L1110.5 527.5" stroke="#3838ff" stroke-width="1" fill="none" stroke-opacity="0.85" stroke-linejoin="round"/>
<path d="M10.5 506.0L13.5 485.0L16.5 472.1L19.5 472.1L22.5 478.0L25.5 485.0L28.5 488.8L31.5 490.3L34.5 494.7L37.5 501.3L40.5 506.1L44.5 506.1L47.5 503.5L50.5 503.5L53.5 514.9L56.5 523.4L59.5 529.1L62.5 520.6L65.5 518.6L68.5 515.9L71.5 524.7L74.5 526.0L77.5 520.8L81.5 498.1L84.5 474.5L87.5 482.4L90.5 498.6L93.5 521.3L96.5 516.0L99.5 511.9L102.5 508.8L105.5 511.0L108.5 511.3L111.5 508.9L115.5 502.7L118.5 497.3L121.5 488.4L124.5 481.4L127.5 479.4L130.5 480.2L133.5 486.4L136.5 487.6L139.5 493.5L142.5 489.0L145.5 493.3L149.5 491.6L152.5 493.6L155.5 496.0L158.5 503.4L161.5 516.2L164.5 522.2L167.5 525.9L170.5 528.7L173.5 526.8L176.5 527.0L179.5 522.5L183.5 517.6L186.5 515.4L189.5 513.3L192.5 514.8L195.5 506.7L198.5 488.6L201.5 479.2L204.5 479.3L207.5 495.6L210.5 495.6L213.5 503.5L217.5 512.7L220.5 522.4L223.5 516.6L226.5 507.0L229.5 505.7L232.5 495.7L235.5 485.0L238.5 475.2L241.5 477.4L244.5 491.5L247.5 498.7L251.5 495.4L254.5 482.8L257.5 475.8L260.5 475.9L263.5 474.1L266.5 470.5L269.5 469.7L272.5 461.6L275.5 461.1L278.5 456.7L281.5 456.8L285.5 450.6L288.5 459.2L291.5 461.0L294.5 465.7L297.5 455.8L300.5 457.5L303.5 452.2L306.5 453.6L309.5 451.7L312.5 456.1L315.5 464.2L319.5 471.7L322.5 481.1L325.5 490.6L328.5 498.2L331.5 506.0L334.5 514.9L337.5 522.5L340.5 530.2L343.5 531.8L346.5 525.4L349.5 513.8L353.5 502.0L356.5 498.0L359.5 485.6L362.5 467.5L365.5 456.8L368.5 456.0L371.5 467.7L374.5 465.1L377.5 466.4L380.5 462.0L383.5 468.3L386.5 472.7L390.5 489.5L393.5 499.7L396.5 522.0L399.5 522.9L402.5 526.9L405.5 511.4L408.5 505.5L411.5 499.6L414.5 492.7L417.5 500.8L420.5 505.9L424.5 524.4L427.5 530.1L430.5 538.4L433.5 532.9L436.5 523.7L439.5 515.4L442.5 516.2L445.5 518.8L448.5 525.6L451.5 527.8L454.5 522.9L458.5 516.1L461.5 503.4L464.5 492.4L467.5 480.6L470.5 480.6L473.5 485.6L476.5 502.3L479.5 513.9L482.5 518.1L485.5 517.5L488.5 520.3L492.5 530.5L495.5 528.2L498.5 523.3L501.5 518.6L504.5 523.8L507.5 529.6L510.5 536.3L513.5 541.1L516.5 537.5L519.5 539.7L522.5 537.5L526.5 536.4L529.5 523.3L532.5 517.8L535.5 518.8L538.5 520.9L541.5 517.6L544.5 508.5L547.5 500.7L550.5 496.9L553.5 498.8L556.5 497.0L560.5 488.3L563.5 482.2L566.5 479.5L569.5 488.9L572.5 503.4L575.5 514.8L578.5 522.4L581.5 521.0L584.5 525.9L587.5 527.7L590.5 529.2L594.5 534.7L597.5 538.9L600.5 545.6L603.5 544.2L606.5 544.0L609.5 543.7L612.5 533.7L615.5 517.5L618.5 496.8L621.5 488.9L624.5 484.9L628.5 484.3L631.5 477.8L634.5 468.1L637.5 458.2L640.5 453.5L643.5 453.9L646.5 459.6L649.5 463.2L652.5 468.3L655.5 468.8L658.5 471.5L662.5 468.9L665.5 461.7L668.5 461.5L671.5 458.8L674.5 459.6L677.5 457.9L680.5 465.5L683.5 464.1L686.5 459.1L689.5 451.3L692.5 459.7L695.5 471.3L699.5 479.2L702.5 476.8L705.5 468.2L708.5 464.7L711.5 466.3L714.5 468.1L717.5 474.9L720.5 481.5L723.5 499.3L726.5 503.3L729.5 513.4L733.5 513.0L736.5 522.9L739.5 515.0L742.5 501.0L745.5 479.6L748.5 467.1L751.5 465.8L754.5 460.4L757.5 458.3L760.5 472.7L763.5 495.6L767.5 518.8L770.5 523.9L773.5 525.5L776.5 522.9L779.5 522.0L782.5 520.8L785.5 520.8L788.5 519.0L791.5 521.1L794.5 524.7L797.5 527.9L801.5 533.0L804.5 540.9L807.5 534.4L810.5 524.5L813.5 515.3L816.5 518.4L819.5 520.2L822.5 522.8L825.5 528.6L828.5 531.0L831.5 524.8L835.5 501.6L838.5 483.4L841.5 468.2L844.5 468.4L847.5 461.0L850.5 459.5L853.5 458.1L856.5 464.2L859.5 465.0L862.5 467.4L865.5 469.2L869.5 476.7L872.5 479.1L875.5 481.4L878.5 481.7L881.5 485.5L884.5 496.0L887.5 506.9L890.5 514.5L893.5 507.5L896.5 507.2L899.5 508.8L903.5 517.3L906.5 515.8L909.5 512.3L912.5 506.9L915.5 513.3L918.5 512.4L921.5 510.0L924.5 493.2L927.5 482.7L930.5 479.2L933.5 471.6L937.5 465.9L940.5 460.4L943.5 467.3L946.5 475.9L949.5 474.1L952.5 463.8L955.5 455.8L958.5 466.3L961.5 480.8L964.5 496.1L967.5 501.9L971.5 508.2L974.5 513.1L977.5 522.8L980.5 531.1L983.5 539.6L986.5 536.4L989.5 533.2L992.5 531.7L995.5 537.7L998.5 540.3L1001.5 540.3L1004.5 536.5L1008.5 540.6L1011.5 541.3L1014.5 538.2L1017.5 526.7L1020.5 515.2L1023.5 510.6L1026.5 509.7L1029.5 519.3L1032.5 516.1L1035.5 516.0L1038.5 505.1L1042.5 506.4L1045.5 500.7L1048.5 497.0L1051.5 496.6L1054.5 497.6L1057.5 498.1L1060.5 500.2L1063.5 501.9L1066.5 501.7L1069.5 497.3L1072.5 494.8L1076.5 499.5L1079.5 501.8L1082.5 498.1L1085.5 478.3L1088.5 462.0L1091.5 453.1L1094.5 467.8L1097.5 477.2L1100.5 487.8L1103.5 485.8L1106.5 497.5L1110.5 511.0" stroke="#ff2828" stroke-width="1" fill="none" stroke-opacity="0.85" stroke-linejoin="round"/>
<rect x="1258" y="270" width="51" height="16" fill="#00f800"/>
<path d="M1258.2 277.5h2.7" stroke="#000"/>
<text x="1265" y="282.3" class="axl" style="fill:#000;font-weight:normal">0.98206</text>
<rect x="1258" y="286" width="51" height="16" fill="#ffff00"/>
<path d="M1258.2 293.5h2.7" stroke="#000"/>
<text x="1265" y="298.3" class="axl" style="fill:#000;font-weight:normal">0.92289</text>
<rect x="1258" y="302" width="51" height="16" fill="#ec00ec"/>
<path d="M1258.2 309.5h2.7" stroke="#fff"/>
<text x="1265" y="314.3" class="axl" style="fill:#fff;font-weight:bold">0.90889</text>
<rect x="1258" y="318" width="51" height="16" fill="#606060"/>
<path d="M1258.2 325.5h2.7" stroke="#fff"/>
<text x="1265" y="330.3" class="axl" style="fill:#fff;font-weight:bold">0.86465</text>
<rect x="1258" y="334" width="51" height="16" fill="#4169e1"/>
<path d="M1258.2 341.5h2.7" stroke="#fff"/>
<text x="1265" y="346.3" class="axl" style="fill:#fff;font-weight:bold">0.82732</text>
<rect x="1258" y="503" width="51" height="16" fill="#ff0000"/>
<path d="M1258.2 510.5h2.7" stroke="#fff"/>
<text x="1265" y="515.3" class="axl" style="fill:#fff;font-weight:bold">38.3913</text>
<rect x="1258" y="521" width="51" height="16" fill="#0000ff"/>
<path d="M1258.2 528.5h2.7" stroke="#fff"/>
<text x="1265" y="533.3" class="axl" style="fill:#fff;font-weight:bold">21.1506</text>
</svg></body></html>
